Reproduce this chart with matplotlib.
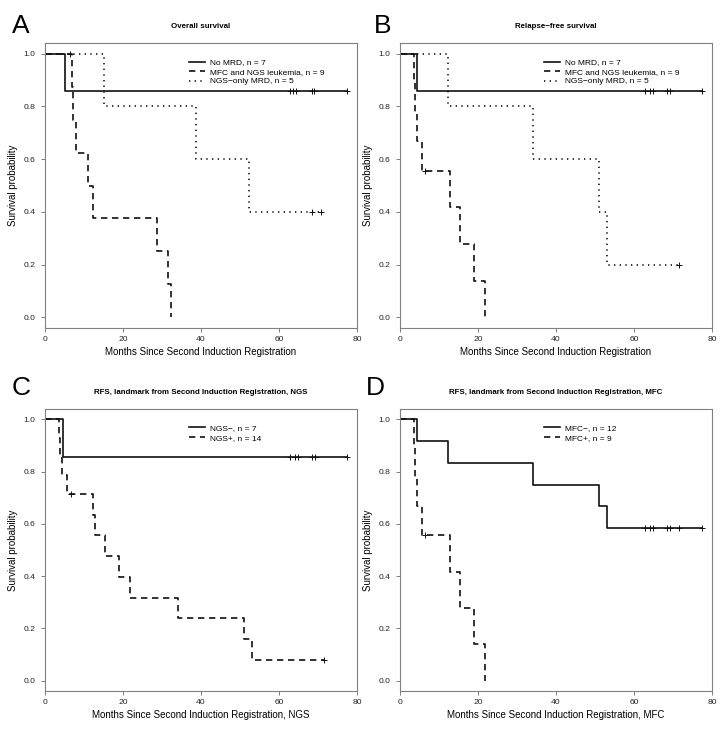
import matplotlib
import numpy as np
from matplotlib import pyplot as plt
from matplotlib.ticker import FormatStrFormatter

matplotlib.use("Agg")
plt.rcParams["font.family"] = ["Liberation Sans", "DejaVu Sans"]

# --- A: overall survival ---------------------------------------------------
os_nomrd_t = [0, 5.2, 77.5]
os_nomrd_s = [1.0, 0.857, 0.857]
os_nomrd_cens = [62.7, 63.7, 64.4, 68.5, 69.0, 77.5]

os_both_t = [0, 7.0, 7.3, 7.9, 11.0, 12.4, 28.7, 31.5, 32.3]
os_both_s = [1.0, 0.875, 0.75, 0.625, 0.5, 0.375, 0.25, 0.125, 0.0]
os_both_cens = [6.4]

os_ngsonly_t = [0, 15.2, 38.8, 52.4, 70.8]
os_ngsonly_s = [1.0, 0.8, 0.6, 0.4, 0.4]
os_ngsonly_cens = [68.5, 70.8]

# --- B: relapse-free survival ----------------------------------------------
rfs_nomrd_t = [0, 4.4, 77.5]
rfs_nomrd_s = [1.0, 0.857, 0.857]
rfs_nomrd_cens = [62.7, 64.1, 64.8, 68.5, 69.2, 77.5]

rfs_both_t = [0, 3.6, 3.8, 4.4, 5.7, 12.7, 15.3, 19.0, 21.8]
rfs_both_s = [1.0, 0.889, 0.778, 0.667, 0.556, 0.417, 0.278, 0.139, 0.0]
rfs_both_cens = [6.4]

rfs_ngsonly_t = [0, 12.3, 34.2, 50.9, 53.0, 71.6]
rfs_ngsonly_s = [1.0, 0.8, 0.6, 0.4, 0.2, 0.2]
rfs_ngsonly_cens = [71.6]

# --- C: landmark RFS by NGS ------------------------------------------------
ngs_neg_t = [0, 4.5, 77.5]
ngs_neg_s = [1.0, 0.857, 0.857]
ngs_neg_cens = [62.7, 64.1, 64.8, 68.5, 69.2, 77.5]

ngs_pos_t = [0, 3.6, 3.8, 4.4, 5.7, 12.3, 12.7, 15.3, 19.0, 21.8, 34.2, 50.9, 53.0, 71.6]
ngs_pos_s = [1.0, 0.929, 0.857, 0.786, 0.714, 0.635, 0.556, 0.476, 0.397, 0.317,
             0.238, 0.159, 0.079, 0.079]
ngs_pos_cens = [6.6, 71.6]

# --- D: landmark RFS by MFC ------------------------------------------------
mfc_neg_t = [0, 4.4, 12.3, 34.2, 50.9, 53.0, 77.5]
mfc_neg_s = [1.0, 0.917, 0.833, 0.75, 0.667, 0.583, 0.583]
mfc_neg_cens = [62.7, 64.1, 64.8, 68.5, 69.2, 71.6, 77.5]

mfc_pos_t = [0, 3.6, 3.8, 4.4, 5.7, 12.7, 15.3, 19.0, 21.8]
mfc_pos_s = [1.0, 0.889, 0.778, 0.667, 0.556, 0.417, 0.278, 0.139, 0.0]
mfc_pos_cens = [6.4]

x_ticks = [0, 20, 40, 60, 80]
y_ticks = [0.0, 0.2, 0.4, 0.6, 0.8, 1.0]

INK = "#111111"
FRAME = "#808080"
STYLES = {
    "solid": dict(linestyle="-"),
    "dashed": dict(dashes=(3.8, 2.8)),
    "dotted": dict(dashes=(0.8, 2.6)),
}


def draw_km(ax, times, surv, censored, style, label):
    kw = STYLES[style]
    ax.step(times, surv, where="post", color=INK, lw=1.2, label=label, **kw)
    times = np.asarray(times)
    surv = np.asarray(surv)
    idx = np.searchsorted(times, censored, side="right") - 1
    ax.plot(censored, surv[idx], linestyle="none", marker="+", ms=4.5, mew=0.7, color=INK)


def style_axes(ax, title, xlabel):
    ax.set_xlim(0, 80)
    ax.set_ylim(-0.04, 1.04)
    ax.set_xticks(x_ticks)
    ax.set_yticks(y_ticks)
    ax.yaxis.set_major_formatter(FormatStrFormatter("%.1f"))
    for sp in ax.spines.values():
        sp.set_color(FRAME)
        sp.set_linewidth(0.8)
    ax.tick_params(length=3, width=0.7, color=FRAME, labelsize=6.1, labelcolor="#222222")
    ax.tick_params(axis="y", pad=4)
    ax.tick_params(axis="x", pad=2.5)
    ax.set_title(title, fontsize=5.7, fontweight="bold", pad=11)
    ax.set_xlabel(xlabel, fontsize=7, labelpad=3)
    ax.set_ylabel("Survival probability", fontsize=7, labelpad=3.5)
    ax.legend(loc="upper left", bbox_to_anchor=(0.45, 0.957), frameon=False, fontsize=6.0,
              handlelength=2.0, handletextpad=0.6, labelspacing=0.2, borderaxespad=0)


fig = plt.figure(figsize=(7.24, 7.36), dpi=100)
W, H = 724, 736


def add_axes(left, top, right, bottom):
    return fig.add_axes([left / W, 1 - bottom / H, (right - left) / W, (bottom - top) / H])


axA = add_axes(45, 43, 357, 328)
axB = add_axes(400, 43, 712, 328)
axC = add_axes(45, 409, 357, 691)
axD = add_axes(400, 409, 712, 691)

draw_km(axA, os_nomrd_t, os_nomrd_s, os_nomrd_cens, "solid", "No MRD, n = 7")
draw_km(axA, os_both_t, os_both_s, os_both_cens, "dashed", "MFC and NGS leukemia, n = 9")
draw_km(axA, os_ngsonly_t, os_ngsonly_s, os_ngsonly_cens, "dotted", "NGS\u2212only MRD, n = 5")
style_axes(axA, "Overall survival", "Months Since Second Induction Registration")

draw_km(axB, rfs_nomrd_t, rfs_nomrd_s, rfs_nomrd_cens, "solid", "No MRD, n = 7")
draw_km(axB, rfs_both_t, rfs_both_s, rfs_both_cens, "dashed", "MFC and NGS leukemia, n = 9")
draw_km(axB, rfs_ngsonly_t, rfs_ngsonly_s, rfs_ngsonly_cens, "dotted", "NGS\u2212only MRD, n = 5")
style_axes(axB, "Relapse\u2212free survival", "Months Since Second Induction Registration")

draw_km(axC, ngs_neg_t, ngs_neg_s, ngs_neg_cens, "solid", "NGS\u2212, n = 7")
draw_km(axC, ngs_pos_t, ngs_pos_s, ngs_pos_cens, "dashed", "NGS+, n = 14")
style_axes(axC, "RFS, landmark from Second Induction Registration, NGS",
           "Months Since Second Induction Registration, NGS")

draw_km(axD, mfc_neg_t, mfc_neg_s, mfc_neg_cens, "solid", "MFC\u2212, n = 12")
draw_km(axD, mfc_pos_t, mfc_pos_s, mfc_pos_cens, "dashed", "MFC+, n = 9")
style_axes(axD, "RFS, landmark from Second Induction Registration, MFC",
           "Months Since Second Induction Registration, MFC")

for letter, x, y in [("A", 12, 33), ("B", 374, 33), ("C", 12, 395), ("D", 366, 395)]:
    fig.text(x / W, 1 - y / H, letter, fontsize=19, va="baseline", ha="left")

fig.savefig("out.png", dpi=100)
